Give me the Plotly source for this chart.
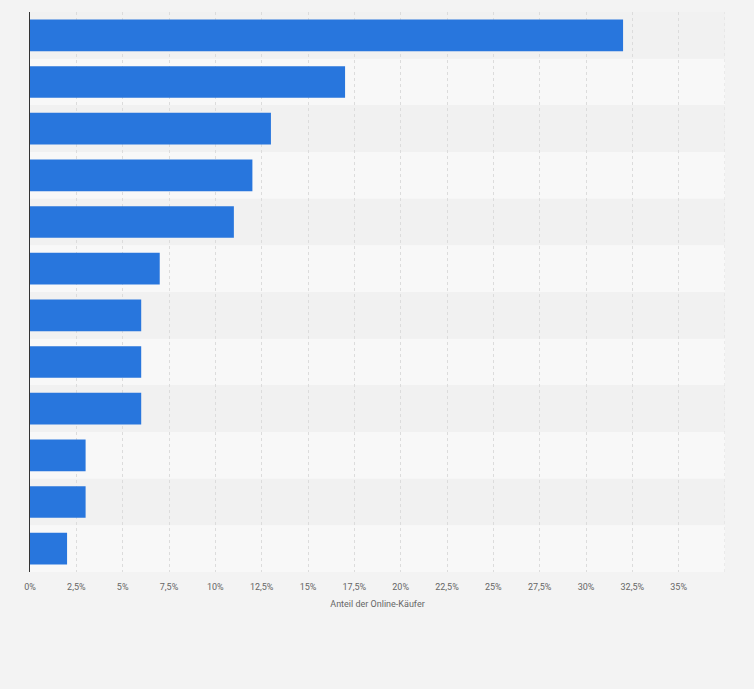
import plotly.graph_objects as go

categories = ["Kategorie %d" % i for i in range(1, 13)]
values = [32, 17, 13, 12, 11, 7, 6, 6, 6, 3, 3, 2]
tick_vals = [0, 2.5, 5, 7.5, 10, 12.5, 15, 17.5, 20, 22.5, 25, 27.5, 30, 32.5, 35]
tick_text = [("%g%%" % v).replace(".", ",") for v in tick_vals]

fig = go.Figure()
fig.add_trace(go.Bar(
    x=values, y=categories, orientation="h",
    marker=dict(color="#2876dd", line=dict(width=0)),
    width=0.68,
))

# alternating band backgrounds
shapes = []
for i, c in enumerate(categories):
    shapes.append(dict(type="rect", xref="paper", yref="y", layer="below",
                       x0=0, x1=1, y0=i - 0.5, y1=i + 0.5,
                       fillcolor="#f1f1f1" if i % 2 == 0 else "#f8f8f8",
                       line=dict(width=0)))
shapes.append(dict(type="line", xref="x", yref="paper", x0=37.5, x1=37.5, y0=0, y1=1,
                   line=dict(color="#dcdcdc", width=1, dash="dot"), layer="below"))

fig.update_layout(
    width=754, height=689,
    margin=dict(l=30, r=29, t=12, b=117),
    paper_bgcolor="#f3f3f3", plot_bgcolor="rgba(0,0,0,0)",
    font=dict(family="Roboto, Arial", size=9, color="#666666"),
    showlegend=False,
    shapes=shapes,
    bargap=0.32,
    xaxis=dict(range=[0, 37.5], tickvals=tick_vals, ticktext=tick_text,
               showgrid=True, gridcolor="#dcdcdc", griddash="dot", zeroline=False,
               title=dict(text="Anteil der Online-Käufer", font=dict(size=9, color="#666666"),
                          standoff=9),
               ticks="", ticklabelstandoff=8),
    yaxis=dict(autorange="reversed", showticklabels=False, showgrid=False,
               showline=True, linecolor="#333333", linewidth=1, ticks=""),
)

fig.write_html("out.html", config={"displayModeBar": False},
               post_script="document.body.style.margin='0';document.body.style.background='#f3f3f3';")
